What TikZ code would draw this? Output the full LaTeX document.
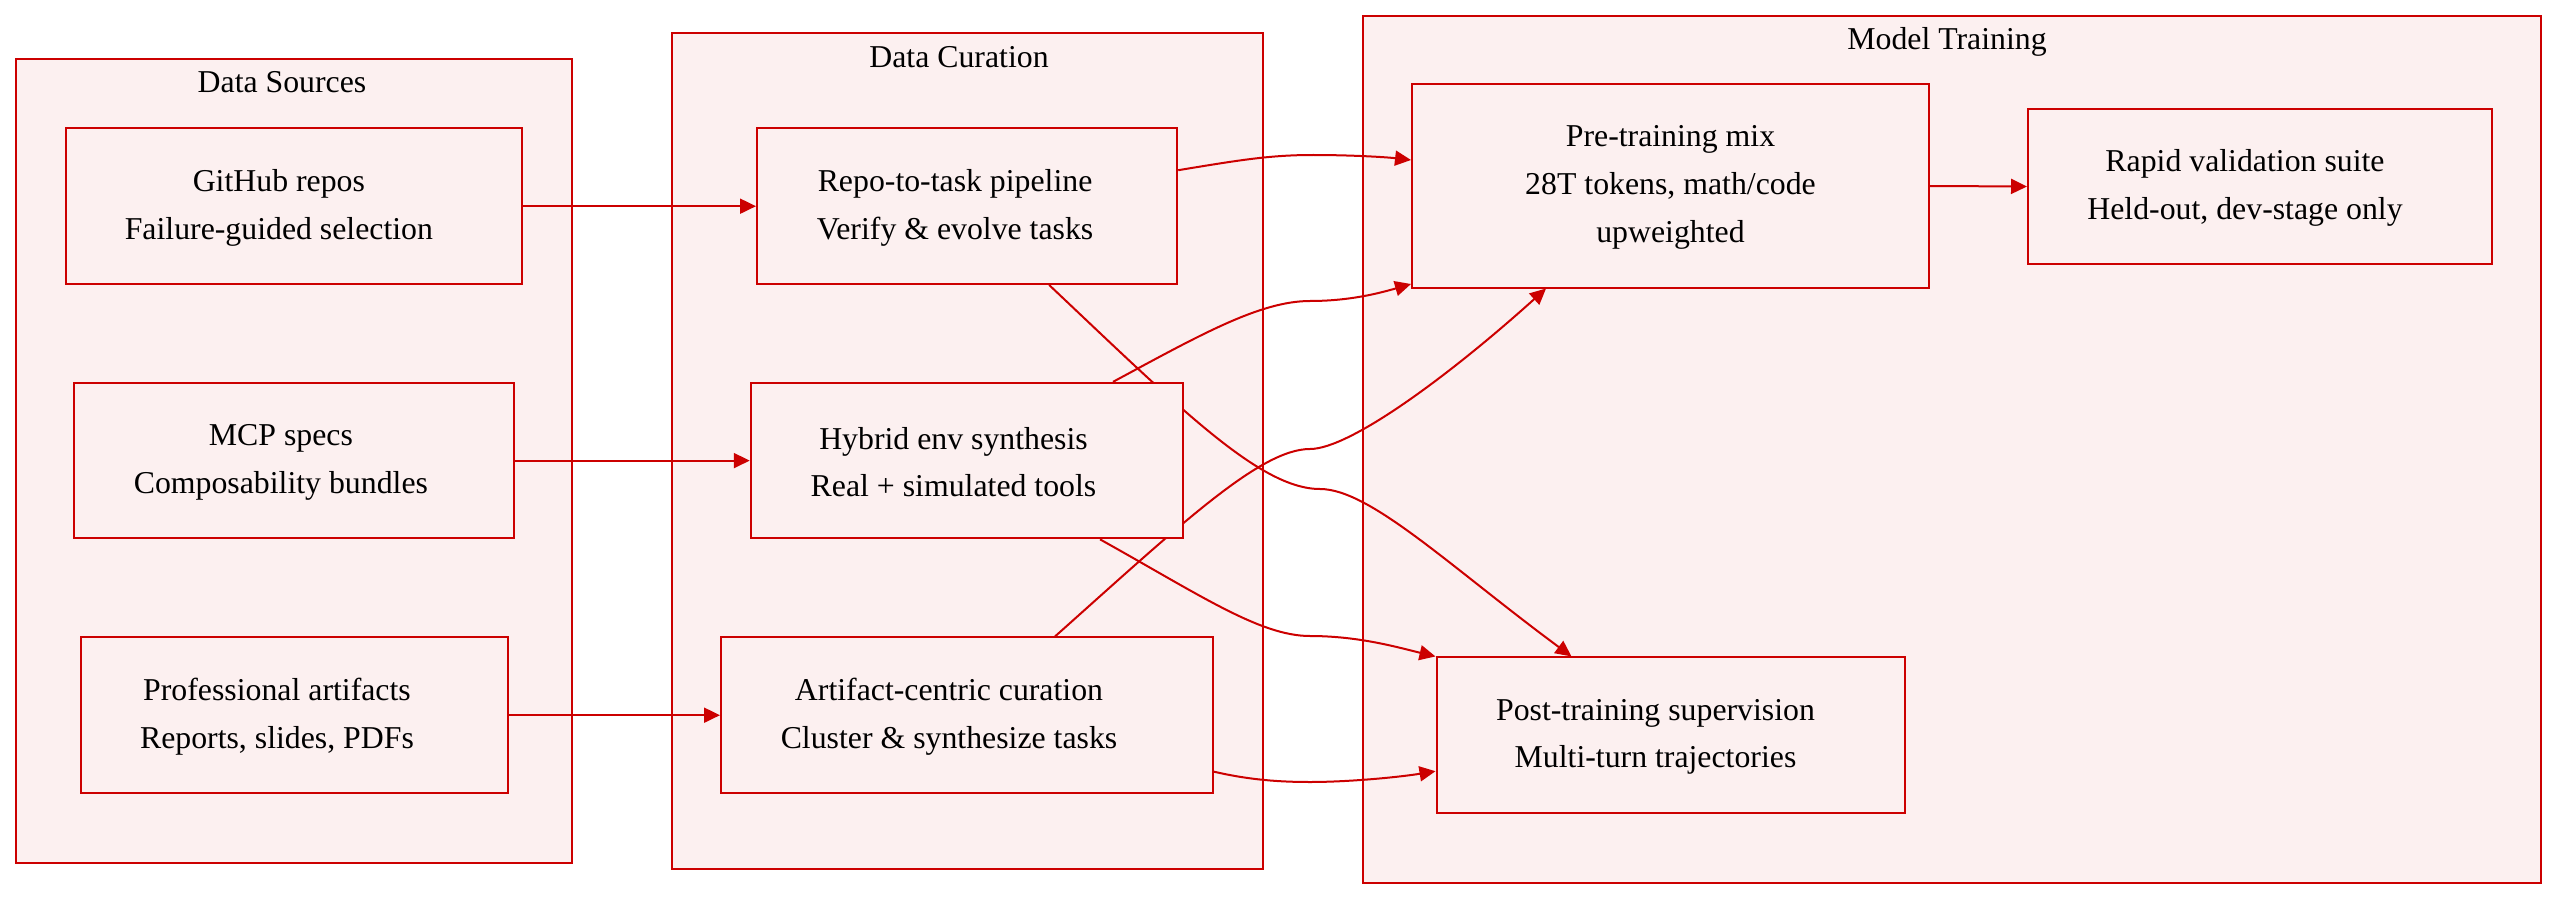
\documentclass[tikz,border=0pt]{standalone}
\usepackage{fontspec}
\setmainfont{Liberation Serif}
\usetikzlibrary{arrows.meta}
\definecolor{bred}{HTML}{CC0000}
\definecolor{bpink}{RGB}{252,240,240}
\pgfdeclarelayer{bg}
\pgfdeclarelayer{edge}
\pgfsetlayers{bg,edge,main}
\begin{document}
\begin{tikzpicture}[x=1pt,y=-1pt,
  every node/.style={font=\fontsize{31.8}{47.6}\selectfont},
  cluster/.style={draw=bred, fill=bpink, line width=2pt, rectangle, inner sep=0pt},
  box/.style={draw=bred, fill=bpink, line width=2pt, rectangle, inner sep=0pt, minimum height=155.5pt},
  lbl/.style={align=center, text=black, yshift=-1.5pt},
  title/.style={anchor=base, text=black},
  conn/.style={draw=bred, line width=2pt, -{Triangle[length=16pt,width=15pt]}}]
\useasboundingbox (0,0) rectangle (2574,904);

\begin{pgfonlayer}{bg}
\node[cluster, minimum width=556pt, minimum height=803.5pt] (csrc) at (293.5,460.75) {};
\node[cluster, minimum width=591pt, minimum height=835.5pt] (ccur) at (967,450.75) {};
\node[cluster, minimum width=1178.5pt, minimum height=866.5pt] (ctrn) at (1951.75,449.25) {};
\end{pgfonlayer}

\node[title] (tsrc) at (282,92.5) {Data Sources};
\node[title] (tcur) at (959,67.2) {Data Curation};
\node[title] (ttrn) at (1947,49.8) {Model Training};

\node[box, minimum width=456.3pt, label={[lbl,xshift=-15pt]center:GitHub repos\\Failure-guided selection}] (gh) at (293.9,206.2) {};
\node[box, minimum width=440pt, label={[lbl,xshift=-13pt]center:MCP specs\\Composability bundles}] (mcp) at (293.9,460.6) {};
\node[box, minimum width=427pt, label={[lbl,xshift=-17pt]center:Professional artifacts\\Reports, slides, PDFs}] (prof) at (294,715.2) {};

\node[box, minimum width=420.2pt, label={[lbl,xshift=-12pt]center:Repo-to-task pipeline\\Verify \& evolve tasks}] (repo) at (967.1,206.2) {};
\node[box, minimum width=432.5pt, label={[lbl,xshift=-13.5pt]center:Hybrid env synthesis\\Real + simulated tools}] (hyb) at (967,460.6) {};
\node[box, minimum width=492pt, label={[lbl,xshift=-18pt]center:Artifact-centric curation\\Cluster \& synthesize tasks}] (art) at (967,715.2) {};

\node[box, minimum width=517pt, minimum height=203pt, label={[lbl]center:Pre-training mix\\28T tokens, math/code\\upweighted}] (pre) at (1670.5,186) {};
\node[box, minimum width=464pt, label={[lbl,xshift=-15pt]center:Rapid validation suite\\Held-out, dev-stage only}] (rap) at (2260,186.5) {};
\node[box, minimum width=468pt, label={[lbl,xshift=-15pt]center:Post-training supervision\\Multi-turn trajectories}] (post) at (1670.5,735.2) {};

\begin{pgfonlayer}{edge}
\draw[conn] (gh.east) -- (repo.west);
\draw[conn] (mcp.east) -- (hyb.west);
\draw[conn] (prof.east) -- (art.west);
\draw[conn] (pre.east) -- (rap.west);
\draw[conn] ([yshift=36pt]repo.east) .. controls (1240,160) and (1270,155) .. (1313,155)
  .. controls (1350,155) and (1385,157) .. ([yshift=26pt]pre.west);
\draw[conn] ([xshift=82pt]repo.south) .. controls (1180,408.5) and (1260,489) .. (1320,489)
  .. controls (1370,489) and (1450,566.6) .. ([xshift=-99pt]post.north);
\draw[conn] ([xshift=146pt]hyb.north) .. controls (1200,335) and (1260,301) .. (1310,301)
  .. controls (1350,301) and (1380,293) .. ([yshift=-98pt]pre.west);
\draw[conn] ([xshift=133pt]hyb.south) .. controls (1200,595) and (1260,636) .. (1310,636)
  .. controls (1360,636) and (1400,648) .. (post.north west);
\draw[conn] ([xshift=88pt]art.north) .. controls (1180,525) and (1260,449) .. (1310,449)
  .. controls (1350,449) and (1450,375) .. ([xshift=-124.5pt]pre.south);
\draw[conn] ([yshift=-56.5pt]art.east) .. controls (1250,780) and (1280,782) .. (1310,782)
  .. controls (1350,782) and (1400,777) .. ([yshift=-36pt]post.west);
\end{pgfonlayer}
\end{tikzpicture}
\end{document}
